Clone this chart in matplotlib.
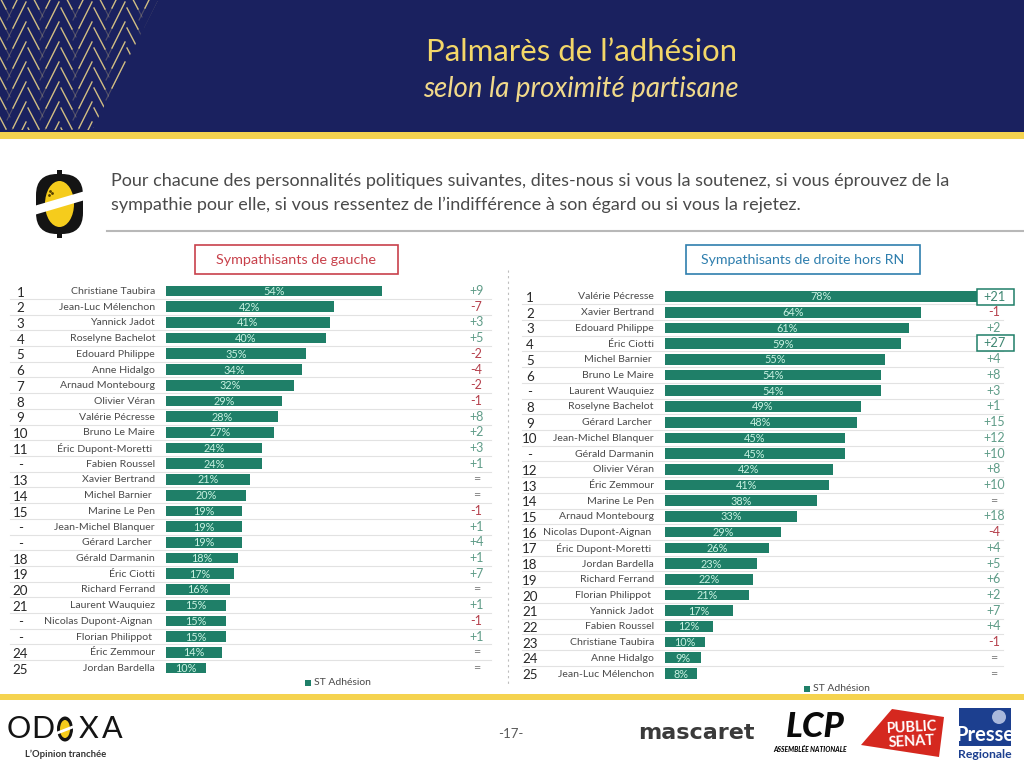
#!/usr/bin/env python3

# Palmares de l'adhesion - slide with two ranked bar charts
import matplotlib
matplotlib.use("Agg")
import matplotlib.pyplot as plt
from matplotlib.patches import Rectangle, Polygon, Ellipse, FancyBboxPatch

plt.rcParams['font.family'] = ['Lato', 'DejaVu Sans']

# Data
left_ranks = ["1", "2", "3", "4", "5", "6", "7", "8", "9", "10", "11", "-", "13", "14", "15", "-", "-", "18", "19", "20", "21", "-", "-", "24", "25"]
left_names = ["Christiane Taubira", "Jean-Luc Mélenchon", "Yannick Jadot", "Roselyne Bachelot", "Edouard Philippe",
              "Anne Hidalgo", "Arnaud Montebourg", "Olivier Véran", "Valérie Pécresse", "Bruno Le Maire",
              "Éric Dupont-Moretti ", "Fabien Roussel", "Xavier Bertrand", "Michel Barnier ", "Marine Le Pen",
              "Jean-Michel Blanquer", "Gérard Larcher ", "Gérald Darmanin", "Éric Ciotti", "Richard Ferrand",
              "Laurent Wauquiez", "Nicolas Dupont-Aignan ", "Florian Philippot ", "Éric Zemmour", "Jordan Bardella"]
left_values = [54, 42, 41, 40, 35, 34, 32, 29, 28, 27, 24, 24, 21, 20, 19, 19, 19, 18, 17, 16, 15, 15, 15, 14, 10]
left_changes = ["+9", "-7", "+3", "+5", "-2", "-4", "-2", "-1", "+8", "+2", "+3", "+1", "=", "=", "-1", "+1", "+4", "+1", "+7", "=", "+1", "-1", "+1", "=", "="]

right_ranks = ["1", "2", "3", "4", "5", "6", "-", "8", "9", "10", "-", "12", "13", "14", "15", "16", "17", "18", "19", "20", "21", "22", "23", "24", "25"]
right_names = ["Valérie Pécresse", "Xavier Bertrand", "Edouard Philippe", "Éric Ciotti", "Michel Barnier ",
               "Bruno Le Maire", "Laurent Wauquiez", "Roselyne Bachelot", "Gérard Larcher ", "Jean-Michel Blanquer",
               "Gérald Darmanin", "Olivier Véran", "Éric Zemmour", "Marine Le Pen", "Arnaud Montebourg",
               "Nicolas Dupont-Aignan ", "Éric Dupont-Moretti ", "Jordan Bardella", "Richard Ferrand", "Florian Philippot ",
               "Yannick Jadot", "Fabien Roussel", "Christiane Taubira", "Anne Hidalgo", "Jean-Luc Mélenchon"]
right_values = [78, 64, 61, 59, 55, 54, 54, 49, 48, 45, 45, 42, 41, 38, 33, 29, 26, 23, 22, 21, 17, 12, 10, 9, 8]
right_changes = ["+21", "-1", "+2", "+27", "+4", "+8", "+3", "+1", "+15", "+12", "+10", "+8", "+10", "=", "+18", "-4", "+4", "+5", "+6", "+2", "+7", "+4", "-1", "=", "="]

NAVY = "#1a215f"
YELLOW = "#f5d34f"
TITLE = "#f3d768"
GOLD = "#f1d98a"
BAR = "#1f7f68"
LABEL = "#c9f2e2"
GREEN = "#5f9c88"
RED = "#b5404c"
TXT = "#4a4a4a"

W, H = 1024, 768
fig = plt.figure(figsize=(W / 100, H / 100), dpi=100, facecolor="white")

# Page layer in pixel coordinates
bg = fig.add_axes([0, 0, 1, 1])
bg.set_xlim(0, W)
bg.set_ylim(H, 0)
bg.axis("off")

bg.add_patch(Rectangle((0, 0), W, 132, color=NAVY, lw=0))
bg.add_patch(Rectangle((0, 132), W, 7, color=YELLOW, lw=0))
bg.add_patch(Rectangle((0, 694), W, 6, color=YELLOW, lw=0))

# Chevron pattern in the header corner
clip = Polygon([(0, 0), (158, 0), (92, 130), (0, 130)], transform=bg.transData)
for row in range(-1, 7):
    for col in range(-1, 5):
        cx = 27 + col * 33
        cy = 1 + row * 20
        # left arm, bright near the top
        ln, = bg.plot([cx - 1, cx - 14], [cy + 1, cy + 27], color=GOLD, lw=1.0, alpha=0.85)
        ln.set_clip_path(clip)
        ln, = bg.plot([cx - 14, cx - 20], [cy + 27, cy + 39], color=GOLD, lw=0.8, alpha=0.25)
        ln.set_clip_path(clip)
        # right arm, fading at the bottom
        ln, = bg.plot([cx + 1, cx + 12], [cy + 7, cy + 28], color=GOLD, lw=1.0, alpha=0.85)
        ln.set_clip_path(clip)
        ln, = bg.plot([cx + 12, cx + 16], [cy + 28, cy + 36], color=GOLD, lw=0.8, alpha=0.25)
        ln.set_clip_path(clip)

bg.text(581.5, 52, "Palmarès de l’adhésion", color=TITLE, fontsize=22.4, ha="center", va="center")
bg.text(581, 89, "selon la proximité partisane", color=GOLD, fontsize=19.9, style="italic", ha="center", va="center")

# Odoxa lemon icon
bg.add_patch(FancyBboxPatch((36, 174), 47, 60, boxstyle="round,pad=0,rounding_size=21", color="#141414", lw=0))
bg.add_patch(Rectangle((57, 170), 5, 5, color="#141414", lw=0))
bg.add_patch(Rectangle((57, 233), 5, 5, color="#141414", lw=0))
bg.add_patch(Ellipse((59.5, 204), 29, 46, color="#f5cc1c", lw=0))
bg.add_patch(Polygon([(34, 206), (85, 191), (85, 200), (34, 215)], color="white", lw=0))
bg.plot([50, 52, 49], [191, 193, 195], ls="", marker="o", ms=1, color="#553f00")

bg.text(111, 181, "Pour chacune des personnalités politiques suivantes, dites-nous si vous la soutenez, si vous éprouvez de la",
        color=TXT, fontsize=12.95, ha="left", va="center")
bg.text(111, 205, "sympathie pour elle, si vous ressentez de l’indifférence à son égard ou si vous la rejetez.",
        color=TXT, fontsize=12.95, ha="left", va="center")
bg.plot([107, 1024], [230.5, 230.5], color="#b8b8b8", lw=1.5)

# Panel titles
bg.add_patch(Rectangle((195, 245), 203, 29, fill=False, ec="#c8414b", lw=1.2))
bg.text(296.5, 260.5, "Sympathisants de gauche", color="#c8414b", fontsize=10.4, ha="center", va="center")
bg.add_patch(Rectangle((686, 245), 234, 29, fill=False, ec="#2f7fae", lw=1.2))
bg.text(802.5, 260.5, "Sympathisants de droite hors RN", color="#2f7fae", fontsize=10.2, ha="center", va="center")

bg.plot([507.5, 507.5], [270, 685], color="#bdbdbd", lw=0.8, ls=(0, (2, 3)))


def draw_panel(x0, y0, x_end, line_start, rank_x, change_x, ranks, names, values, changes):
    # 4 px per percentage point, 15.71 px per row
    step = 15.71
    top = y0 - step / 2
    bottom = top + 25 * step
    ax = fig.add_axes([x0 / W, 1 - bottom / H, (x_end - x0) / W, (bottom - top) / H])
    ax.patch.set_alpha(0)
    ax.set_xlim(0, (x_end - x0) / 4.0)
    ax.set_ylim(24.5, -0.5)
    ax.axis("off")
    ypos = list(range(len(values)))
    ax.barh(ypos, values, height=0.68, color=BAR, zorder=3)
    xl = (line_start - x0) / 4.0
    for y in ypos[:-1]:
        ax.plot([xl, ax.get_xlim()[1]], [y + 0.5, y + 0.5], color="#e2e2e2", lw=0.8, clip_on=False, zorder=1)
    for y in ypos:
        ax.text(values[y] / 2, y + 0.03, "%d%%" % values[y], color=LABEL, fontsize=7.8, ha="center", va="center", zorder=4)
        ax.text(-2.75, y + 0.03, names[y], color=TXT, fontsize=7.55, ha="right", va="center", clip_on=False)
        ax.text((rank_x - x0) / 4.0, y + 0.1, ranks[y], color="#262626", fontsize=9.6, ha="center", va="center", clip_on=False)
        ch = changes[y]
        col = GREEN if ch[0] == "+" else RED if ch[0] == "-" else "#8a8a8a"
        ax.text((change_x - x0) / 4.0, y, ch, color=col, fontsize=9.0, ha="center", va="center", clip_on=False, zorder=6)
    return ax


left_ax = draw_panel(166, 291, 491, 10, 20.5, 476.5, left_ranks, left_names, left_values, left_changes)
right_ax = draw_panel(665, 296.5, 1003, 522, 530, 994, right_ranks, right_names, right_values, right_changes)

# Highlight boxes around the biggest moves
top_bg = fig.add_axes([0, 0, 1, 1])
top_bg.set_xlim(0, W)
top_bg.set_ylim(H, 0)
top_bg.axis("off")
top_bg.patch.set_alpha(0)
for y_box, txt in [(289, "+21"), (335, "+27")]:
    top_bg.add_patch(Rectangle((977, y_box), 37, 16, fc="white", ec="#1f7f68", lw=1.1))
    top_bg.text(994.5, y_box + 7.8, txt, color="#3f8672", fontsize=9.2, ha="center", va="center")

# Legends
top_bg.add_patch(Rectangle((305, 680), 5.5, 5.5, color=BAR, lw=0))
top_bg.text(314, 682.5, "ST Adhésion", color=TXT, fontsize=7.5, ha="left", va="center")
top_bg.add_patch(Rectangle((804, 686), 5.5, 5.5, color=BAR, lw=0))
top_bg.text(813, 688.5, "ST Adhésion", color=TXT, fontsize=7.5, ha="left", va="center")

# Footer
for letter, lx in [("O", 19), ("D", 43), ("X", 89), ("A", 112.5)]:
    top_bg.text(lx, 729, letter, color="#141414", fontsize=22, ha="center", va="center")
top_bg.add_patch(Ellipse((65, 729), 16, 25, color="#141414", lw=0))
top_bg.add_patch(Ellipse((65, 729), 10, 18, color="#f5cc1c", lw=0))
top_bg.add_patch(Polygon([(56, 732), (74, 725), (74, 728), (56, 735)], color="white", lw=0))
top_bg.text(66, 754, "L’Opinion tranchée", color="#333333", fontsize=6.8, ha="center", va="center", weight="bold")
top_bg.text(511, 734, "-17-", color="#595959", fontsize=9.5, ha="center", va="center")

top_bg.text(696, 733, "mascaret", color="#3a3a3a", fontsize=16, family="DejaVu Sans", weight="bold", ha="center", va="center")
top_bg.text(815, 727, "LCP", color="#0a0a0a", fontsize=25, weight="black", style="italic", ha="center", va="center")
top_bg.text(810, 750, "ASSEMBLÉE NATIONALE", color="#0a0a0a", fontsize=4.9, weight="black", style="italic", ha="center", va="center")
top_bg.add_patch(Polygon([(861, 745), (892, 709), (944, 717), (939, 757)], color="#d5281f", lw=0))
top_bg.text(912, 728, "PUBLIC", color="white", fontsize=10.5, weight="bold", ha="center", va="center", rotation=3)
top_bg.text(912, 742, "SENAT", color="white", fontsize=10.5, weight="bold", ha="center", va="center", rotation=3)
top_bg.add_patch(Rectangle((959, 708), 52, 38, color="#1c3f8f", lw=0))
top_bg.add_patch(Ellipse((999, 717), 14, 14, color="#a9b8dc", lw=0))
top_bg.text(985, 735, "Presse", color="white", fontsize=14.5, weight="bold", ha="center", va="center")
top_bg.text(985, 754, "Regionale", color="#1c3f8f", fontsize=8.8, weight="bold", ha="center", va="center")

fig.savefig("out.png", dpi=100)
